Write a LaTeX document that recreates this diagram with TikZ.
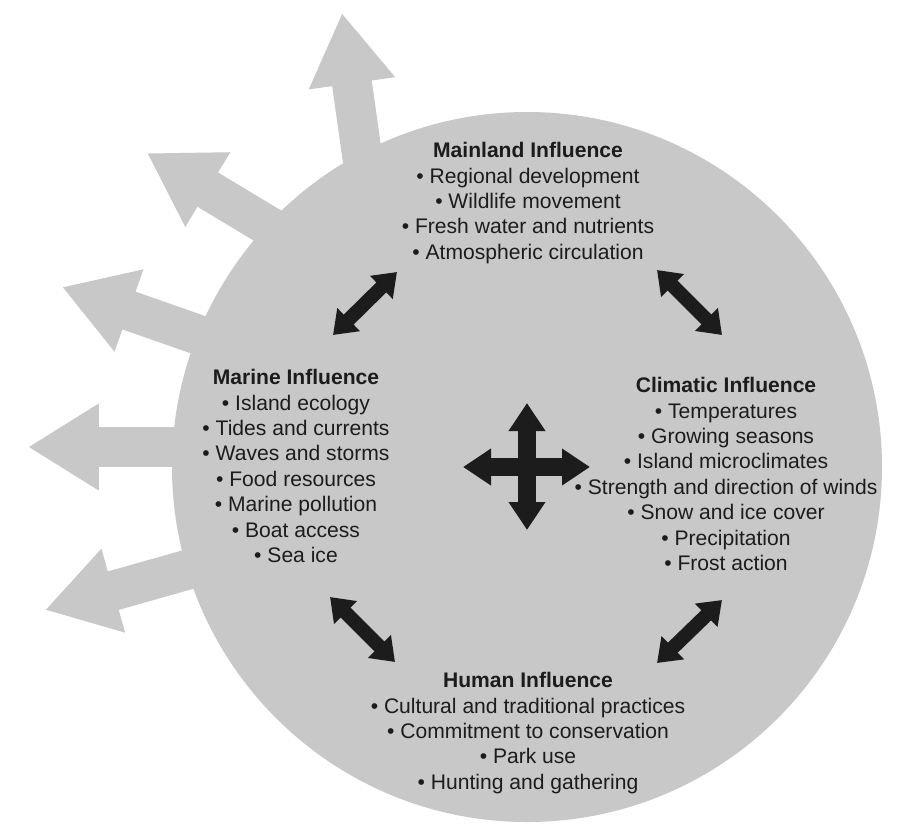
\documentclass[tikz,border=0pt]{standalone}
\usepackage{fontspec}
\setmainfont{Liberation Sans}
\usetikzlibrary{arrows.meta}
\definecolor{discgray}{RGB}{200,200,200}
\definecolor{inkblack}{RGB}{28,28,28}
\tikzset{
  OutArrow/.style = { discgray, line width = 0.8cm,
                      -{Triangle[length=1.42cm,width=1.64cm]} },
  LinkArrow/.style = { inkblack, line width = 0.28cm,
                       {Triangle[length=0.44cm,width=0.62cm]}-{Triangle[length=0.44cm,width=0.62cm]} },
  CrossArrow/.style = { inkblack, line width = 0.36cm,
                        {Triangle[length=0.56cm,width=0.7cm]}-{Triangle[length=0.56cm,width=0.7cm]} },
  InfluenceStyle/.style = { align = center, inner sep = 0pt, text = inkblack,
                            font = \fontsize{12}{14.45}\selectfont } }

\begin{document}
\begin{tikzpicture}[x=0.02cm, y=-0.02cm]
  \useasboundingbox (0,0) rectangle (898,825);

  \coordinate (out1-s) at (370,211);
  \coordinate (out1-t) at (342,13);
  \coordinate (out2-s) at (318,256);
  \coordinate (out2-t) at (147,153);
  \coordinate (out3-s) at (270,360);
  \coordinate (out3-t) at (62,287);
  \coordinate (out4-s) at (250,447);
  \coordinate (out4-t) at (28,447);
  \coordinate (out5-s) at (257,550);
  \coordinate (out5-t) at (45,610);
  \draw[OutArrow] (out1-s) -- (out1-t);
  \draw[OutArrow] (out2-s) -- (out2-t);
  \draw[OutArrow] (out3-s) -- (out3-t);
  \draw[OutArrow] (out4-s) -- (out4-t);
  \draw[OutArrow] (out5-s) -- (out5-t);

  \coordinate (hub) at (527,467);
  \fill[discgray] (hub) circle (355);

  \node[InfluenceStyle] (mainland) at (528,203)
    {\textbf{Mainland Influence}\\
     • Regional development\\
     • Wildlife movement\\
     • Fresh water and nutrients\\
     • Atmospheric circulation};
  \node[InfluenceStyle] (marine) at (296,466)
    {\textbf{Marine Influence}\\
     • Island ecology\\
     • Tides and currents\\
     • Waves and storms\\
     • Food resources\\
     • Marine pollution\\
     • Boat access\\
     • Sea ice};
  \node[InfluenceStyle] (climatic) at (726,474)
    {\textbf{Climatic Influence}\\
     • Temperatures\\
     • Growing seasons\\
     • Island microclimates\\
     • Strength and direction of winds\\
     • Snow and ice cover\\
     • Precipitation\\
     • Frost action};
  \node[InfluenceStyle] (human) at (528,733)
    {\textbf{Human Influence}\\
     • Cultural and traditional practices\\
     • Commitment to conservation\\
     • Park use\\
     • Hunting and gathering};

  \coordinate (ma-mn1) at (333,335);
  \coordinate (ma-mn2) at (397,272);
  \coordinate (mn-cl1) at (657,270);
  \coordinate (mn-cl2) at (722,335);
  \coordinate (ma-hu1) at (330,597);
  \coordinate (ma-hu2) at (395,662);
  \coordinate (cl-hu1) at (722,600);
  \coordinate (cl-hu2) at (657,663);
  \draw[LinkArrow] (ma-mn1) -- (ma-mn2);
  \draw[LinkArrow] (mn-cl1) -- (mn-cl2);
  \draw[LinkArrow] (ma-hu1) -- (ma-hu2);
  \draw[LinkArrow] (cl-hu1) -- (cl-hu2);

  \coordinate (hub-n) at (527,403);
  \coordinate (hub-s) at (527,530);
  \coordinate (hub-w) at (463,467);
  \coordinate (hub-e) at (590,467);
  \draw[CrossArrow] (hub-n) -- (hub-s);
  \draw[CrossArrow] (hub-w) -- (hub-e);
\end{tikzpicture}
\end{document}
